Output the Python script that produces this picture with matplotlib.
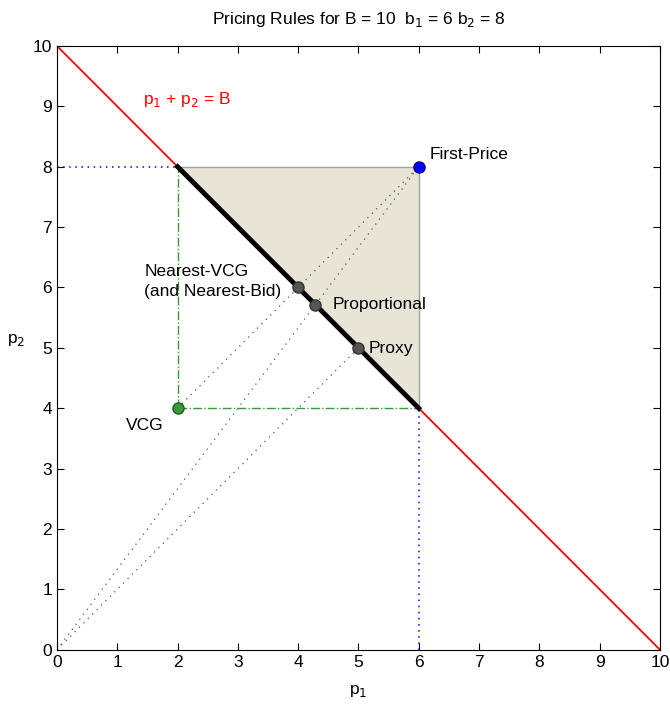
import matplotlib
matplotlib.use('Agg')
import matplotlib.pyplot as plt
import numpy as np

plt.rcParams['font.family'] = ['Liberation Sans', 'DejaVu Sans']

# data
B = 10
b1, b2 = 6, 8
vcg = (2, 4)
first_price = (b1, b2)
nearest_vcg = (4, 6)
proportional = (b1 * B / (b1 + b2), b2 * B / (b1 + b2))
proxy = (5, 5)
core_x = [2, 6, 6]
core_y = [8, 8, 4]
ticks = list(range(0, 11))

fig = plt.figure(figsize=(6.7, 7.07), dpi=100)
ax = fig.add_axes([0.085, 0.081, 0.9, 0.854])

# core region
ax.fill(core_x, core_y, color='#e9e5d6', edgecolor='#a0a0a0', linewidth=1, zorder=1)

# budget line
ax.plot([0, B], [B, 0], color='red', linewidth=1.3, zorder=2)

# dotted guide lines
dot = dict(color='#555555', linestyle=(0, (1, 4)), linewidth=0.9, zorder=2)
ax.plot([0, first_price[0]], [0, first_price[1]], **dot)
ax.plot([0, proxy[0]], [0, proxy[1]], **dot)
ax.plot([vcg[0], first_price[0]], [vcg[1], first_price[1]], **dot)

# bid lines
ax.plot([0, B - b2], [b2, b2], color='blue', linestyle=(0, (1, 3)), linewidth=1.1, zorder=2)
ax.plot([b1, b1], [0, B - b1], color='blue', linestyle=(0, (1, 3)), linewidth=1.1, zorder=2)

# vcg lines
ax.plot([vcg[0], vcg[0]], [vcg[1], B - vcg[0]], color='#3a9a3a', linestyle='-.', linewidth=1, zorder=2)
ax.plot([vcg[0], B - vcg[1]], [vcg[1], vcg[1]], color='#3a9a3a', linestyle='-.', linewidth=1, zorder=2)

# core boundary on budget line
ax.plot([B - b2, b1], [b2, B - b1], color='black', linewidth=3.5, zorder=3)

# points
ax.plot(*first_price, 'o', markersize=8, markerfacecolor='blue', markeredgecolor='#000080', zorder=4)
ax.plot(*vcg, 'o', markersize=8, markerfacecolor='#3a9a3a', markeredgecolor='#1f5f1f', zorder=4)
for pt in [nearest_vcg, proportional, proxy]:
    ax.plot(*pt, 'o', markersize=8, markerfacecolor='#555555', markeredgecolor='#333333', zorder=4)

# labels
fs = 12.5
ax.text(1.43, 9.12, r'p$_1$ + p$_2$ = B', color='red', fontsize=fs, va='center')
ax.text(6.18, 8.2, 'First-Price', fontsize=fs, va='center')
ax.text(1.45, 6.1, 'Nearest-VCG\n(and Nearest-Bid)', fontsize=fs, va='center', linespacing=1.35)
ax.text(4.57, 5.72, 'Proportional', fontsize=fs, va='center')
ax.text(5.17, 4.99, 'Proxy', fontsize=fs, va='center')
ax.text(1.15, 3.72, 'VCG', fontsize=fs, va='center')

ax.set_xlim(0, 10)
ax.set_ylim(0, 10)
ax.set_xticks(ticks)
ax.set_yticks(ticks)
ax.tick_params(direction='in', top=True, right=True, labelsize=12.5, length=5)
ax.set_xlabel(r'p$_1$', fontsize=fs, labelpad=10)
ax.set_ylabel(r'p$_2$', fontsize=fs, rotation=0, labelpad=12)
ax.set_title(r'Pricing Rules for B = 10  b$_1$ = 6 b$_2$ = 8', fontsize=fs, pad=16)

fig.savefig('out.png', dpi=100)
